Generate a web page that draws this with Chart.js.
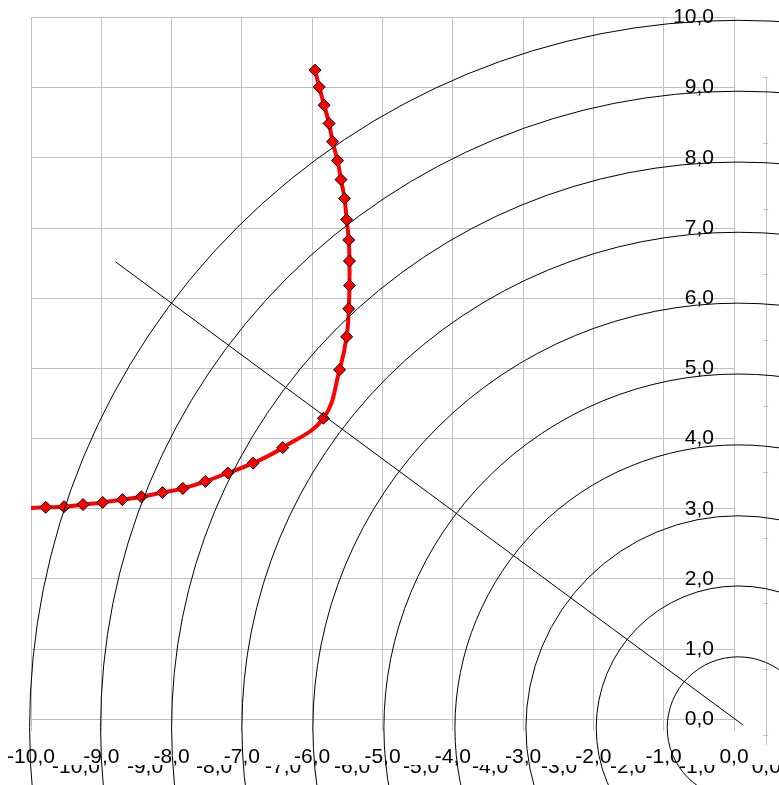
<!DOCTYPE html>
<html>
<head>
<meta charset="utf-8">
<script src="https://cdn.jsdelivr.net/npm/chart.js@4.4.1/dist/chart.umd.min.js"></script>
<style>
    html, body { margin: 0; padding: 0; background: #fff; overflow: hidden; }
    canvas { display: block; }
</style>
</head>
<body>
<canvas id="myChart" width="779" height="785"></canvas>
<script>
// red path with diamond markers (last point lies just past the left edge)
const CURVE_X = [-5.96, -5.90, -5.83, -5.76, -5.71, -5.64, -5.59, -5.54, -5.51, -5.48,
                 -5.47, -5.47, -5.48, -5.51, -5.61, -5.84,
                 -6.42, -6.84, -7.20, -7.52, -7.84, -8.13, -8.43, -8.70, -8.98, -9.26,
                 -9.53, -9.79, -10.30];
const CURVE_Y = [9.25, 9.01, 8.75, 8.49, 8.23, 7.96, 7.69, 7.42, 7.12, 6.83,
                 6.53, 6.18, 5.85, 5.45, 4.98, 4.29,
                 3.87, 3.65, 3.51, 3.39, 3.29, 3.23, 3.17, 3.13, 3.09, 3.06,
                 3.03, 3.02, 3.00];

// straight radial line
const RAY_X = [-8.80, 0.127];
const RAY_Y = [6.52, -0.08];

// concentric rings
const RING_CX = 0.06;
const RING_CY = -0.12;
const RING_RADII = [1.01, 2.02, 3.02, 4.03, 5.04, 6.05, 7.06, 8.06, 9.07, 10.08];

// axis ticks
const X_TICKS  = [-10, -9, -8, -7, -6, -5, -4, -3, -2, -1, 0];
const Y_TICKS  = [0, 1, 2, 3, 4, 5, 6, 7, 8, 9, 10];
// the second (mostly hidden) chart behind
const X2_TICKS = [-10, -9, -8, -7, -6, -5, -4, -3, -2, -1, 0];
const Y2_TICKS = [0, 1, 2, 3, 4, 5, 6, 7, 8, 9, 10];

const FONT = { family: "'Liberation Sans', Arial, sans-serif", size: 21 };
const GRID = '#c0c0c0';
const fmt = v => (Math.abs(v) < 1e-9 ? 0 : v).toFixed(1).replace('.', ',');

const backChartPlugin = {
    id: 'backChart',
    beforeDatasetsDraw(chart) {
        const { ctx, scales: { x2, y2 } } = chart;
        ctx.save();
        // y axis of the back chart
        const ax = x2.getPixelForValue(0);
        ctx.strokeStyle = GRID;
        ctx.lineWidth = 1;
        ctx.beginPath();
        ctx.moveTo(Math.round(ax) + 0.5, y2.getPixelForValue(10));
        ctx.lineTo(Math.round(ax) + 0.5, y2.getPixelForValue(-0.15));
        Y2_TICKS.forEach(v => {
            const py = Math.round(y2.getPixelForValue(v)) + 0.5;
            ctx.moveTo(ax - 3, py);
            ctx.lineTo(ax + 2, py);
        });
        ctx.stroke();

        // its tick labels, half covered by the front chart
        ctx.beginPath();
        ctx.rect(0, 765, chart.width, chart.height - 765);
        ctx.clip();
        ctx.fillStyle = '#000';
        ctx.font = `${FONT.size}px ${FONT.family}`;
        ctx.textAlign = 'center';
        ctx.textBaseline = 'middle';
        X2_TICKS.forEach(v => {
            ctx.fillText(fmt(v), x2.getPixelForValue(v), 767);
        });
        ctx.restore();
    },
    afterDatasetsDraw(chart) {
        const { ctx, scales: { x, y } } = chart;
        const cx = x.getPixelForValue(RING_CX);
        const cy = y.getPixelForValue(RING_CY);
        ctx.save();
        ctx.strokeStyle = '#000';
        ctx.lineWidth = 1;
        RING_RADII.forEach(r => {
            const rx = x.getPixelForValue(RING_CX + r) - cx;
            const ry = cy - y.getPixelForValue(RING_CY + r);
            ctx.beginPath();
            ctx.ellipse(cx, cy, rx, ry, 0, 0, Math.PI * 2);
            ctx.stroke();
        });
        ctx.restore();
    }
};

new Chart(document.getElementById('myChart'), {
    type: 'scatter',
    data: {
        datasets: [
            {
                data: RAY_X.map((v, i) => ({ x: v, y: RAY_Y[i] })),
                showLine: true,
                borderColor: '#000',
                borderWidth: 1,
                pointRadius: 0,
                clip: false
            },
            {
                data: CURVE_X.map((v, i) => ({ x: v, y: CURVE_Y[i] })),
                showLine: true,
                borderColor: '#ff0000',
                borderWidth: 4,
                tension: 0.4,
                pointStyle: 'rectRot',
                pointRadius: 6,
                pointBackgroundColor: '#ff0000',
                pointBorderColor: '#000',
                pointBorderWidth: 1,
                clip: 0
            }
        ]
    },
    options: {
        responsive: false,
        animation: false,
        devicePixelRatio: 1,
        layout: { padding: { left: 31, right: 45, top: 17.5, bottom: 15.7 } },
        plugins: { legend: { display: false }, tooltip: { enabled: false } },
        scales: {
            x: {
                type: 'linear',
                position: 'bottom',
                min: -10, max: 0,
                afterBuildTicks: s => { s.ticks = X_TICKS.map(v => ({ value: v })); },
                afterFit: s => { s.height = 50; s.paddingLeft = 0; s.paddingRight = 0; },
                grid: { color: GRID, lineWidth: 1, tickLength: 12, drawTicks: true },
                border: { color: GRID },
                ticks: {
                    color: '#000', font: FONT, padding: 13,
                    maxRotation: 0, autoSkip: false,
                    callback: v => fmt(v)
                }
            },
            y: {
                type: 'linear',
                position: 'right',
                min: 0, max: 10,
                afterBuildTicks: s => { s.ticks = Y_TICKS.map(v => ({ value: v })); },
                afterFit: s => { s.width = 0; s.paddingTop = 0; s.paddingBottom = 0; },
                grid: { color: GRID, lineWidth: 1, drawTicks: false },
                border: { color: GRID },
                ticks: {
                    color: '#000', font: FONT, mirror: true, padding: -20,
                    autoSkip: false,
                    callback: v => fmt(v)
                }
            },
            x2: {
                type: 'linear', axis: 'x', display: false,
                min: -10.652, max: -0.467
            },
            y2: {
                type: 'linear', axis: 'y', display: false,
                min: 0.239, max: 10.904
            }
        }
    },
    plugins: [backChartPlugin]
});
</script>
</body>
</html>
